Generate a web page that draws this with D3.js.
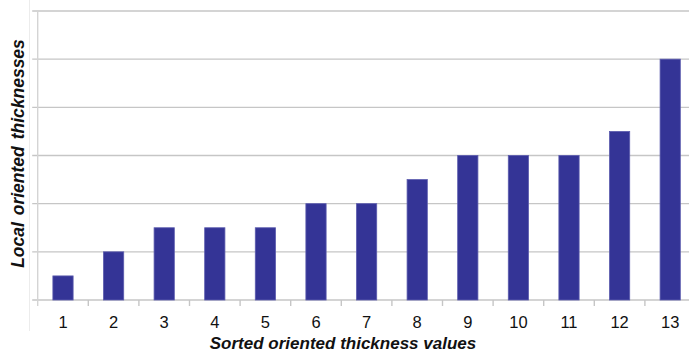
<!DOCTYPE html>
<html>
<head>
<meta charset="utf-8">
<script src="https://cdn.jsdelivr.net/npm/d3@7"></script>
<style>
  html, body { margin: 0; padding: 0; background: #fff; }
  svg { display: block; font-family: "Liberation Sans", Arial, sans-serif; }
</style>
</head>
<body>
<svg id="chart" width="689" height="353"></svg>
<script>
// Sorted oriented thickness values (categories) and their local thicknesses
const categories = ["1", "2", "3", "4", "5", "6", "7", "8", "9", "10", "11", "12", "13"];
const thickness = [1, 2, 3, 3, 3, 4, 4, 5, 6, 6, 6, 7, 10];
const gridValues = [0, 2, 4, 6, 8, 10, 12];

const svg = d3.select("#chart");
const plotLeft = 37.7, plotBottom = 300, plotTop = 11, plotRight = 695.5;

const x = d3.scaleBand().domain(categories).range([plotLeft, plotRight]).padding(0);
const y = d3.scaleLinear().domain([0, 12]).range([plotBottom, plotTop]);

// faint frame around the title strip
svg.append("line")
  .attr("x1", 29.5).attr("x2", 29.5).attr("y1", 0).attr("y2", 331)
  .attr("stroke", "#ececec").attr("stroke-width", 1);

// horizontal gridlines with short ticks on the left
svg.append("g").selectAll("line").data(gridValues).join("line")
  .attr("x1", plotLeft - 5.5).attr("x2", 689)
  .attr("y1", d => y(d)).attr("y2", d => y(d))
  .attr("stroke", "#c6c6c6").attr("stroke-width", 1.4);

// vertical axis line
svg.append("line")
  .attr("x1", plotLeft).attr("x2", plotLeft).attr("y1", plotTop).attr("y2", plotBottom + 6)
  .attr("stroke", "#d4d4d4").attr("stroke-width", 1.4);

// category boundary ticks below the baseline
svg.append("g").selectAll("line").data(categories.slice(1)).join("line")
  .attr("x1", d => x(d)).attr("x2", d => x(d))
  .attr("y1", plotBottom).attr("y2", plotBottom + 6)
  .attr("stroke", "#c6c6c6").attr("stroke-width", 1.4);

// bars
const barW = x.bandwidth() * 0.4;
svg.append("g").selectAll("rect").data(thickness).join("rect")
  .attr("x", (d, i) => x(categories[i]) + (x.bandwidth() - barW) / 2)
  .attr("y", d => y(d))
  .attr("width", barW)
  .attr("height", d => plotBottom - y(d))
  .attr("fill", "#343496")
  .attr("stroke", "#5c5cae")
  .attr("stroke-width", 0.8);

// category labels
svg.append("g").selectAll("text").data(categories).join("text")
  .attr("x", d => x(d) + x.bandwidth() / 2)
  .attr("y", 328)
  .attr("text-anchor", "middle")
  .attr("font-size", 16.5)
  .attr("fill", "#111")
  .text(d => d);

// axis titles
svg.append("text")
  .attr("x", 343).attr("y", 348.5)
  .attr("text-anchor", "middle")
  .attr("font-size", 17).attr("font-weight", "bold").attr("font-style", "italic")
  .attr("fill", "#111")
  .text("Sorted oriented thickness values");

svg.append("text")
  .attr("transform", "translate(23.5,153.5) rotate(-90)")
  .attr("text-anchor", "middle")
  .attr("font-size", 17.5).attr("font-weight", "bold").attr("font-style", "italic")
  .attr("word-spacing", 2)
  .attr("fill", "#111")
  .text("Local oriented thicknesses");
</script>
</body>
</html>
